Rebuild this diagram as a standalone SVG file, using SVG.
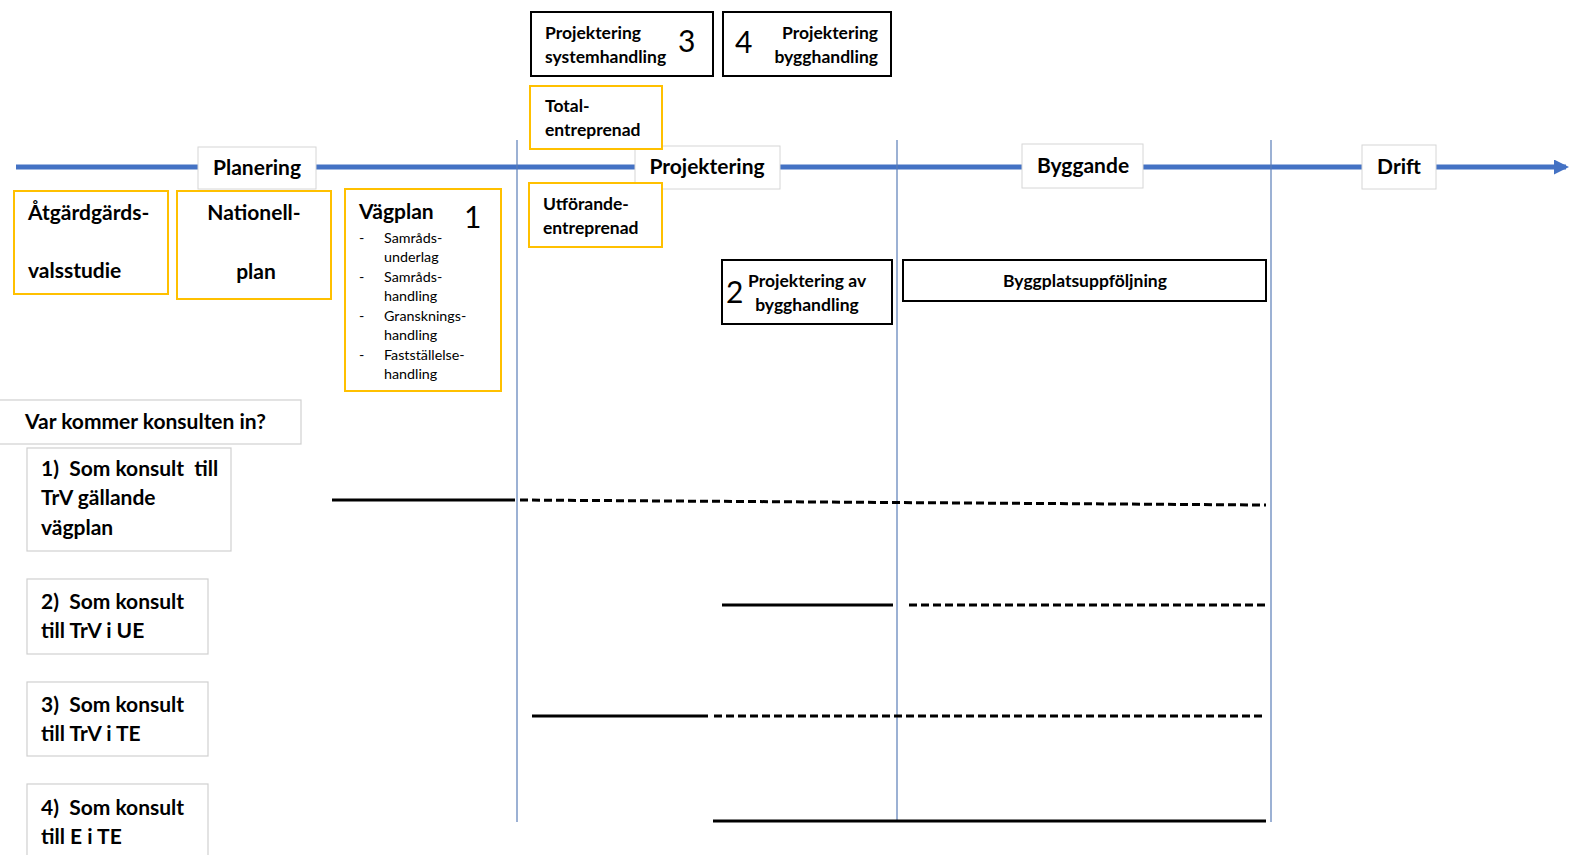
<svg xmlns="http://www.w3.org/2000/svg" width="1572" height="855" viewBox="0 0 1572 855">
  <style>
    text { font-family: Lato, "Open Sans", "Liberation Sans", sans-serif; fill: #000; }
    .b { font-weight: bold; }
    .phase { fill: #fff; stroke: #d6d6d6; stroke-width: 1; }
    .yel { fill: #fff; stroke: #FFC000; stroke-width: 2; }
    .blk { fill: #fff; stroke: #000; stroke-width: 2; }
    .gry { fill: #fff; stroke: #d0d0d0; stroke-width: 1.2; }
    .vline { stroke: #5a7db8; stroke-width: 1.2; }
    .solid { stroke: #000; stroke-width: 3; fill: none; }
    .dash { stroke: #000; stroke-width: 3; stroke-dasharray: 8 4; fill: none; }
    .p20 { font-size: 21px; }
    .p17 { font-size: 17.5px; }
    .p16 { font-size: 17.5px; }
    .p14 { font-size: 14.3px; }
    .num { font-size: 30px; }
  </style>
  <defs>
    <marker id="arrow" viewBox="0 0 10 10" refX="8" refY="5" markerWidth="3" markerHeight="3" orient="auto" markerUnits="strokeWidth">
      <path d="M0,0 L10,5 L0,10 z" fill="#4472C4"/>
    </marker>
  </defs>
  <rect width="1572" height="855" fill="#fff"/>

  <!-- time axis and phase separators -->
  <g id="axis">
    <line x1="16" y1="167" x2="1566" y2="167" stroke="#4472C4" stroke-width="5" marker-end="url(#arrow)"/>
    <line class="vline" x1="517" y1="140" x2="517" y2="822"/>
    <line class="vline" x1="897" y1="140" x2="897" y2="822"/>
    <line class="vline" x1="1271" y1="140" x2="1271" y2="822"/>
  </g>

  <!-- phase labels -->
  <g id="planering">
    <rect class="phase" x="198" y="147" width="118" height="42"/>
    <text class="b p20" x="257" y="175" text-anchor="middle">Planering</text>
  </g>
  <g id="projektering">
    <rect class="phase" x="635" y="146" width="145" height="43"/>
    <text class="b p20" x="707" y="174" text-anchor="middle">Projektering</text>
  </g>
  <g id="byggande">
    <rect class="phase" x="1022" y="144" width="121" height="44"/>
    <text class="b p20" x="1083" y="173" text-anchor="middle">Byggande</text>
  </g>
  <g id="drift">
    <rect class="phase" x="1362" y="145" width="74" height="44"/>
    <text class="b p20" x="1399" y="174" text-anchor="middle">Drift</text>
  </g>

  <!-- planning documents -->
  <g id="atgardsvalsstudie">
    <rect class="yel" x="14" y="191" width="154" height="103"/>
    <text class="b p20" x="28" y="220">Åtgärdgärds-</text>
    <text class="b p20" x="28" y="278">valsstudie</text>
  </g>
  <g id="nationell-plan">
    <rect class="yel" x="177" y="191" width="154" height="108"/>
    <text class="b p20" x="254" y="220" text-anchor="middle">Nationell-</text>
    <text class="b p20" x="256" y="279" text-anchor="middle">plan</text>
  </g>
  <g id="vagplan">
    <rect class="yel" x="345" y="189" width="156" height="202"/>
    <text class="b p20" x="359" y="219">Vägplan</text>
    <text class="num" x="464" y="228">1</text>
    <g class="p14">
      <text x="359" y="243">-</text>
      <text x="384" y="243">Samråds-</text>
      <text x="384" y="262">underlag</text>
      <text x="359" y="282">-</text>
      <text x="384" y="282">Samråds-</text>
      <text x="384" y="301">handling</text>
      <text x="359" y="321">-</text>
      <text x="384" y="321">Gransknings-</text>
      <text x="384" y="340">handling</text>
      <text x="359" y="360">-</text>
      <text x="384" y="360">Fastställelse-</text>
      <text x="384" y="379">handling</text>
    </g>
  </g>

  <!-- contract forms -->
  <g id="totalentreprenad">
    <rect class="yel" x="530" y="86" width="132" height="63"/>
    <text class="b p17" x="545" y="112">Total-</text>
    <text class="b p17" x="545" y="136">entreprenad</text>
  </g>
  <g id="utforandeentreprenad">
    <rect class="yel" x="529" y="183" width="133" height="64"/>
    <text class="b p17" x="543" y="210">Utförande-</text>
    <text class="b p17" x="543" y="234">entreprenad</text>
  </g>

  <!-- design and construction tasks -->
  <g id="task3">
    <rect class="blk" x="531" y="12" width="182" height="64"/>
    <text class="b p17" x="545" y="39">Projektering</text>
    <text class="b p17" x="545" y="63">systemhandling</text>
    <text class="num" x="678" y="52">3</text>
  </g>
  <g id="task4">
    <rect class="blk" x="723" y="12" width="168" height="64"/>
    <text class="num" x="735" y="53">4</text>
    <text class="b p17" x="878" y="39" text-anchor="end">Projektering</text>
    <text class="b p17" x="878" y="63" text-anchor="end">bygghandling</text>
  </g>
  <g id="task2">
    <rect class="blk" x="722" y="260" width="170" height="64"/>
    <text class="num" x="726" y="303">2</text>
    <text class="b p16" x="748" y="287">Projektering av</text>
    <text class="b p16" x="807" y="311" text-anchor="middle">bygghandling</text>
  </g>
  <g id="byggplatsuppfoljning">
    <rect class="blk" x="903" y="260" width="363" height="41"/>
    <text class="b p16" x="1085" y="287" text-anchor="middle">Byggplatsuppföljning</text>
  </g>

  <!-- consultant roles -->
  <g id="question">
    <rect class="gry" x="-2" y="400" width="303" height="44"/>
    <text class="b p20" x="25" y="429">Var kommer konsulten in?</text>
  </g>
  <g id="role1">
    <rect class="gry" x="27" y="448" width="204" height="103"/>
    <text class="b p20" x="41" y="476" xml:space="preserve">1)  Som konsult  till</text>
    <text class="b p20" x="41" y="505">TrV gällande</text>
    <text class="b p20" x="41" y="535">vägplan</text>
  </g>
  <g id="role2">
    <rect class="gry" x="27" y="579" width="181" height="75"/>
    <text class="b p20" x="41" y="609" xml:space="preserve">2)  Som konsult</text>
    <text class="b p20" x="41" y="638">till TrV i UE</text>
  </g>
  <g id="role3">
    <rect class="gry" x="27" y="682" width="181" height="74"/>
    <text class="b p20" x="41" y="712" xml:space="preserve">3)  Som konsult</text>
    <text class="b p20" x="41" y="741">till TrV i TE</text>
  </g>
  <g id="role4">
    <rect class="gry" x="27" y="784" width="181" height="80"/>
    <text class="b p20" x="41" y="815" xml:space="preserve">4)  Som konsult</text>
    <text class="b p20" x="41" y="844">till E i TE</text>
  </g>

  <!-- involvement lines: solid = active, dashed = continued -->
  <g id="connectors">
    <line class="solid" x1="332" y1="500" x2="515" y2="500"/>
    <line class="dash" x1="520" y1="500" x2="1266" y2="505"/>
    <line class="solid" x1="722" y1="605" x2="893" y2="605"/>
    <line class="dash" x1="909" y1="605" x2="1266" y2="605"/>
    <line class="solid" x1="532" y1="716" x2="708" y2="716"/>
    <line class="dash" x1="714" y1="716" x2="1266" y2="716"/>
    <line class="solid" x1="713" y1="821" x2="1266" y2="821"/>
  </g>
</svg>
